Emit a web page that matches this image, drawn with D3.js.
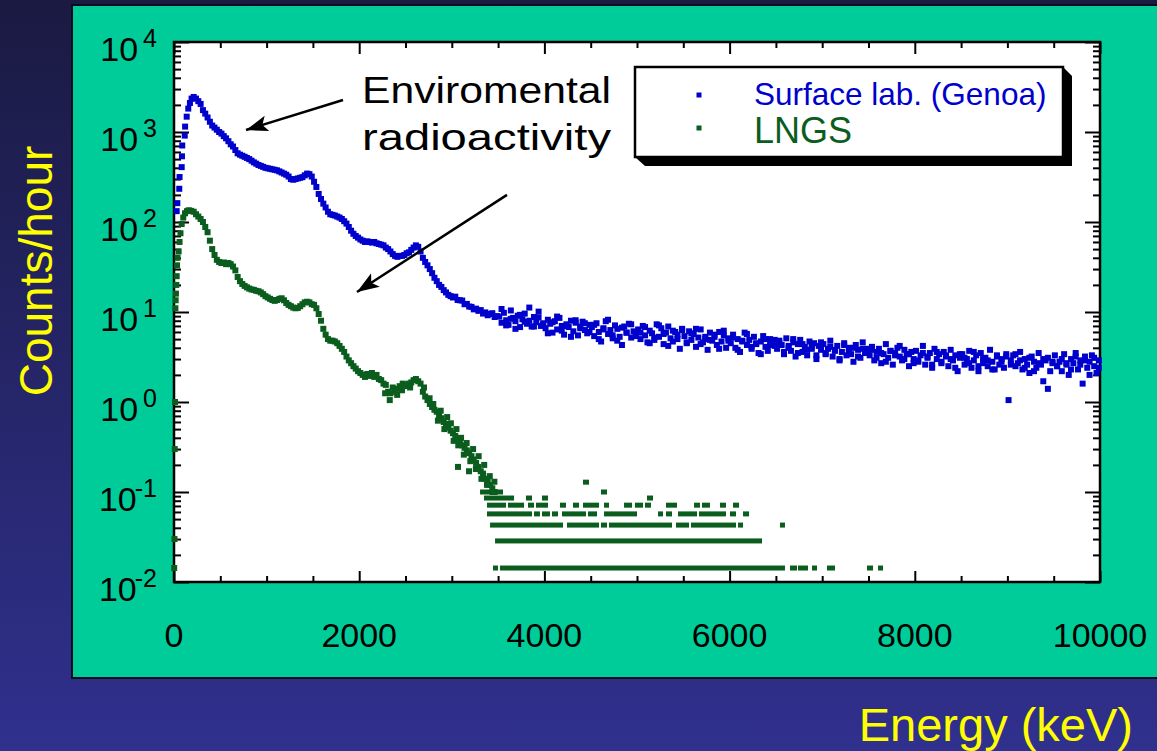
<!DOCTYPE html>
<html>
<head>
<meta charset="utf-8">
<script src="https://cdn.jsdelivr.net/npm/d3@7"></script>
<style>
html,body{margin:0;padding:0;background:#232366;}
svg{display:block;}
text{font-family:"Liberation Sans",Arial,sans-serif;}
</style>
</head>
<body>
<svg id="chart" width="1157" height="751"></svg>
<script>
// ---- data ----
var binWidth = 25;            // keV per channel group
var histStart = 200;          // first regular bin starts here (keV)

// first channels (keV, counts/hour) below histStart
var surfaceEdge = [[29,132],[36,162],[57,234],[60,316],[83,407],[86,537],[89,708],[116,912],[120,1148],[137,1480],[154,1820],[172,2100],[190,2350]];
var lngsEdge = [[2,0.0143],[5,0.03],[8,0.3],[11,1.0],[15,11],[18,13.5],[21,16],[25,20],[29,25],[33,33],[38,40],[50,47],[60,60],[70,75],[83,95],[100,112],[119,125],[140,132],[160,135],[185,133]];

// Surface lab (Genoa), counts/hour in 25 keV bins from 200 keV
var surfaceCounts = [
  2450,2350,2200,2050,1750,1600,1450,1300,1180,1120,1060,1000,960,900,850,790,730,690,630,580,
  560,545,530,515,500,480,460,445,430,420,410,400,395,390,385,380,375,365,355,345,
  335,320,300,295,300,305,310,315,330,345,340,320,280,245,205,180,160,145,130,122,
  120,118,115,112,108,102,96,88,80,74,70,67,64,62,60,61,60,59,60,58,
  57,56,55,52,50,47,44,42,41,42,42,43,45,46,49,52,55,53,47,40,
  36,33,30,27,24,22,20,19,17.5,16.5,15.5,15,14.5,14.8,13.6,13.5,13.4,12.2,12.3,11.5,
  11.4,10.7,10.9,10.3,10.5,9.6,9.9,9.2,9.5,9.7,8.8,9.0,
  8.9,7.6,9.8,8.1,7.2,10.4,8.6,7.9,9.1,6.8,8.3,9.6,7.4,8.0,6.9,8.8,7.7,10.1,7.0,7.5,
  6.6,8.2,7.4,5.9,7.9,6.4,8.6,7.0,5.6,7.3,6.8,8.0,6.1,7.6,5.5,6.9,7.8,6.3,5.8,7.2,
  6.8,5.4,7.5,6.0,4.7,6.6,7.9,5.7,6.3,5.1,7.1,6.5,5.3,4.3,6.9,5.9,7.4,5.2,6.1,5.6,
  6.4,5.0,7.0,5.5,4.6,6.2,5.8,4.9,7.3,5.3,6.6,4.4,5.9,6.9,5.1,4.7,6.0,5.6,3.9,6.3,
  5.4,4.5,6.1,4.9,5.7,4.1,5.2,6.4,4.6,5.0,3.8,5.9,4.8,5.3,4.3,6.0,4.7,5.5,4.0,5.1,
  4.5,5.6,4.0,5.0,3.6,4.8,5.9,4.3,4.9,3.9,5.3,4.4,3.5,4.7,5.4,4.1,3.7,5.0,4.6,4.2,
  3.9,4.8,4.3,3.4,5.1,4.0,3.7,4.6,3.2,4.4,4.9,3.6,4.1,3.3,4.7,3.9,4.5,3.0,4.2,3.8,
  4.4,3.5,3.9,4.8,3.2,3.7,4.2,2.9,3.6,4.5,3.3,4.0,3.4,2.8,4.3,3.8,3.1,4.6,3.5,3.9,
  3.3,4.1,2.9,3.6,3.9,2.7,3.4,4.4,3.1,3.7,2.6,3.5,4.0,3.2,2.9,3.8,3.4,2.5,3.6,3.0,
  3.7,2.8,3.3,4.2,2.6,3.1,3.5,2.4,3.9,3.0,3.4,2.7,3.6,3.2,2.5,3.8,2.9,3.3,2.2,3.1,
  3.4,2.6,3.0,3.7,2.4,2.9,3.3,2.2,3.5,2.7,3.1,2.5,3.8,2.8,2.3,3.2,2.6,3.0,2.4,3.4,
  1.05,2.9,3.3,2.5,2.7,3.6,2.3,3.0,2.6,2.1,3.2,2.8,2.4,3.5,2.6,1.7,2.9,3.1,2.2,2.7,
  3.3,2.5,2.8,2.2,3.4,2.6,2.0,3.0,2.7,3.5,2.3,2.9,1.6,3.2,2.4,2.8,3.3,2.5,2.1,2.9
];
// Surface lab, second set of tail channels (50 keV apart, from 3512 keV)
var tailStart = 3512;
var tailStep = 50;
var surfaceTailExtra = [
  10.8,7.1,8.4,6.5,9.3,7.8,11.2,6.9,8.7,7.3,
  5.8,7.7,8.9,6.2,7.0,5.3,8.1,6.6,7.5,6.0,
  7.2,5.0,6.4,8.2,5.5,4.8,6.7,5.9,7.3,5.4,
  5.9,6.8,4.5,5.2,7.1,5.7,4.2,6.2,5.0,6.5,
  4.6,5.8,6.5,4.4,5.3,4.9,5.6,3.9,6.2,4.8,
  5.2,3.8,4.7,5.7,4.1,4.5,3.4,5.0,4.3,4.9,
  4.5,3.6,4.2,5.0,3.5,4.4,3.8,4.1,3.3,4.6,
  3.4,4.1,3.8,3.0,4.3,3.6,4.0,3.2,3.9,3.5,
  3.8,3.1,3.5,2.8,3.7,3.3,4.2,3.0,3.4,2.7,
  2.9,3.5,3.2,2.6,3.6,2.8,3.3,3.0,2.4,3.4,
  3.1,2.7,3.6,2.5,3.0,2.9,2.3,3.3,2.8,3.2,
  2.6,3.4,2.9,2.4,3.1,2.2,2.7,3.0,1.4,2.8,
  2.5,3.0,2.7,2.3,3.2,2.6,2.9,2.0,3.1,2.4
];

// LNGS, counts/hour in 25 keV bins from 200 keV
var lngsCounts = [
  130,122,115,108,100,88,77,62,50,43,38,36,35,35.5,34,35,34,32,29,24.5,
  22,20.5,19.5,18.8,18.2,17.8,17.6,17.2,17.0,16.5,15.8,15.0,14.5,14.0,13.6,13.3,13.6,14.0,14.2,13.5,
  12.6,12.0,11.6,11.2,11.0,11.1,11.6,12.2,12.8,13.0,12.8,12.2,12.0,11.0,9.5,8.0,6.5,5.6,5.0,4.8,
  4.8,4.7,4.5,4.2,3.9,3.6,3.2,2.9,2.7,2.5,2.35,2.2,2.1,2.0,1.9,2.05,1.95,2.1,1.9,2.0,
  1.8,1.75,1.6,1.55,1.3,1.25,1.45,1.3,1.4,1.5,1.35,1.55,1.5,1.6,1.65,1.75,1.8,1.7,1.6,1.3,
  1.15,1.05,0.95,0.88,0.82,0.78,0.70,0.66,0.6,0.57,0.52,0.48,0.45,0.42,0.38,0.36,0.33,0.31,0.29,0.27,
  0.25,0.23,0.21,0.19,0.17,0.16,0.14,0.13,0.12,0.11,0.1
];
// extra LNGS channels scattered around the curve (keV, counts/hour)
var lngsScatter = [[2280,1.25],[2330,1.05],[2410,1.2],[2470,1.6],[2550,1.45],[2700,1.45],[2760,1.1],[2800,0.95],
  [2850,0.62],[2880,0.8],[2920,0.5],[2950,0.68],[2990,0.58],[3020,0.37],[3050,0.5],[3067,0.19],[3070,0.33],[3100,0.4],
  [3130,0.26],[3160,0.35],[3186,0.17],[3200,0.22],[3230,0.3],[3260,0.18],[3290,0.25],[3320,0.14],[3350,0.2],[3380,0.12],
  [3410,0.15],[3440,0.1],[3460,0.13]];

// LNGS high-energy channels: runs of channels sitting on the same (quantised) rate
// [counts/hour, from keV, to keV]
var lngsRuns = [
  [0.0143,3445,3499],[0.0143,3520,6598],[0.0143,6652,6728],[0.0143,6739,6847],[0.0143,6890,6944],[0.0143,7052,7138],[0.0143,7484,7549],[0.0143,7603,7657],
  [0.0286,3467,6350],
  [0.0429,3413,4201],[0.0429,4244,4590],[0.0429,4611,4676],[0.0429,4698,5378],[0.0429,5421,5562],[0.0429,5583,6069],[0.0429,6091,6145],[0.0429,6544,6598],
  [0.0571,3380,3866],[0.0571,3888,3952],[0.0571,3974,4060],[0.0571,4082,4147],[0.0571,4190,4449],[0.0571,4471,4568],[0.0571,4644,5000],[0.0571,5227,5281],
  [0.0571,5313,5378],[0.0571,5443,5648],[0.0571,5670,5961],[0.0571,6004,6069],[0.0571,6145,6210],
  [0.0714,3380,3585],[0.0714,3607,3780],[0.0714,3823,3888],[0.0714,3909,4039],[0.0714,4168,4233],[0.0714,4309,4374],[0.0714,4417,4590],[0.0714,4644,4698],
  [0.0714,4860,4946],[0.0714,4978,5065],[0.0714,5086,5151],[0.0714,5313,5432],[0.0714,5616,5680],[0.0714,5702,5788],[0.0714,5896,5961],[0.0714,6037,6102],
  [0.0857,3348,3672],[0.0857,3801,3866],[0.0857,3974,4039],[0.0857,5108,5173],
  [0.1,3305,3553],[0.1,4611,4676],
  [0.1286,4417,4482]
];

var seriesNames = ['Surface lab. (Genoa)', 'LNGS'];
var seriesColors = ['#0000cc', '#0b5d1e'];
var xTickLabels = ['0','2000','4000','6000','8000','10000'];
var yExponents = ['-2','-1','0','1','2','3','4'];

// ---- layout ----
var svg = d3.select('#chart');
var plot = {left:174, top:42, right:1100, bottom:582};
var markSize = 6;
var runHeight = 5;

var x = d3.scaleLinear().domain([0,10000]).range([plot.left, plot.right]);
var y = d3.scaleLog().domain([0.01,10000]).range([plot.bottom, plot.top]);

function binned(values, start, step){
  return values.map(function(v,i){ return [start + step*(i+0.5), v]; });
}
var surfacePts = surfaceEdge
  .concat(binned(surfaceCounts, histStart, binWidth))
  .concat(binned(surfaceTailExtra, tailStart, tailStep));
var lngsPts = lngsEdge.concat(binned(lngsCounts, histStart, binWidth)).concat(lngsScatter);

// background
var defs = svg.append('defs');
var grad = defs.append('linearGradient').attr('id','bg').attr('x1',0).attr('y1',0).attr('x2',0).attr('y2',1);
grad.append('stop').attr('offset','0%').attr('stop-color','#1a1a42');
grad.append('stop').attr('offset','100%').attr('stop-color','#30308e');
svg.append('rect').attr('width',1157).attr('height',751).attr('fill','url(#bg)');

defs.append('marker').attr('id','arrow')
  .attr('markerUnits','userSpaceOnUse')
  .attr('markerWidth',24).attr('markerHeight',18)
  .attr('refX',22).attr('refY',8)
  .attr('orient','auto')
  .append('path').attr('d','M0,0 L22,8 L0,16 L5,8 Z').attr('fill','#000');

// teal panel
svg.append('rect')
  .attr('x',72).attr('y',5).attr('width',1110).attr('height',673)
  .attr('fill','#00cc99').attr('stroke','#0a0a20').attr('stroke-width',2);

// plot area
svg.append('rect')
  .attr('x',plot.left).attr('y',plot.top)
  .attr('width',plot.right-plot.left).attr('height',plot.bottom-plot.top)
  .attr('fill','#fff');

// ticks (all inward)
var xTicks = x.ticks(20);
var yTicks = y.ticks();
function majorX(v){ return v % 2000 === 0; }
function majorY(v){ var l = Math.log10(v); return Math.abs(l - Math.round(l)) < 1e-6; }

function styleAxis(g, isMajor, majorLen, sign, horiz){
  g.select('.domain').remove();
  g.selectAll('.tick line')
    .attr('stroke','#000').attr('stroke-width',2)
    .each(function(d){
      if (isMajor(d)) d3.select(this).attr(horiz ? 'y2' : 'x2', sign*majorLen);
    });
  g.selectAll('.tick text').remove();
}

svg.append('g').attr('transform','translate(0,'+plot.bottom+')')
  .call(d3.axisTop(x).tickValues(xTicks).tickSize(6))
  .call(styleAxis, majorX, 11, -1, true);
svg.append('g').attr('transform','translate(0,'+plot.top+')')
  .call(d3.axisBottom(x).tickValues(xTicks).tickSize(6))
  .call(styleAxis, majorX, 12, 1, true);
svg.append('g').attr('transform','translate('+plot.left+',0)')
  .call(d3.axisRight(y).tickValues(yTicks).tickSize(7))
  .call(styleAxis, majorY, 15, 1, false);
svg.append('g').attr('transform','translate('+plot.right+',0)')
  .call(d3.axisLeft(y).tickValues(yTicks).tickSize(7))
  .call(styleAxis, majorY, 15, -1, false);

// frame
svg.append('rect')
  .attr('x',plot.left).attr('y',plot.top)
  .attr('width',plot.right-plot.left).attr('height',plot.bottom-plot.top)
  .attr('fill','none').attr('stroke','#000').attr('stroke-width',2.5);

// tick labels
svg.append('g').selectAll('text').data(xTickLabels).enter().append('text')
  .attr('x', function(d){ return x(+d); })
  .attr('y', plot.bottom + 65)
  .attr('text-anchor','middle')
  .attr('font-size',34)
  .attr('fill','#000')
  .text(function(d){ return d; });

var yLab = svg.append('g').selectAll('text').data(yExponents).enter().append('text')
  .attr('x', 157)
  .attr('y', function(d){ return y(Math.pow(10,+d)) + 19; })
  .attr('text-anchor','end')
  .attr('fill','#000');
yLab.append('tspan').attr('font-size',34).text('10');
yLab.append('tspan').attr('font-size',25)
  .attr('dx', function(d){ return +d < 0 ? -2 : 5; })
  .attr('dy', -14)
  .text(function(d){ return d; });

// data marks
function drawPoints(pts, color){
  svg.append('g').selectAll('rect').data(pts).enter().append('rect')
    .attr('x', function(d){ return x(d[0]) - markSize/2; })
    .attr('y', function(d){ return y(d[1]) - markSize/2; })
    .attr('width', markSize).attr('height', markSize)
    .attr('fill', color);
}
drawPoints(surfacePts, seriesColors[0]);
drawPoints(lngsPts, seriesColors[1]);

svg.append('g').selectAll('rect').data(lngsRuns).enter().append('rect')
  .attr('x', function(d){ return x(d[1]); })
  .attr('y', function(d){ return y(d[0]) - runHeight/2; })
  .attr('width', function(d){ return x(d[2]) - x(d[1]); })
  .attr('height', runHeight)
  .attr('fill', seriesColors[1]);

// annotation
var note = svg.append('g');
note.append('line')
  .attr('x1', x(1825)).attr('y1', y(2270))
  .attr('x2', x(778)).attr('y2', y(1052))
  .attr('stroke','#000').attr('stroke-width',2.5).attr('marker-end','url(#arrow)');
note.append('line')
  .attr('x1', x(3596)).attr('y1', y(200))
  .attr('x2', x(1976)).attr('y2', y(16.7))
  .attr('stroke','#000').attr('stroke-width',2.5).attr('marker-end','url(#arrow)');
note.selectAll('text').data(['Enviromental','radioactivity']).enter().append('text')
  .attr('x', x(2030))
  .attr('y', function(d,i){ return y(i ? 631 : 2100); })
  .attr('font-family','"Comic Sans MS","DejaVu Sans",sans-serif')
  .attr('font-size',36)
  .attr('textLength', 249).attr('lengthAdjust','spacingAndGlyphs')
  .attr('fill','#000')
  .text(function(d){ return d; });

// legend
var leg = svg.append('g');
leg.append('polygon')
  .attr('points','1063,67 1072,76 1072,166 645,166 635,157')
  .attr('fill','#000');
leg.append('rect')
  .attr('x',635).attr('y',67).attr('width',428).attr('height',90)
  .attr('fill','#fff').attr('stroke','#000').attr('stroke-width',2.5);
var legRows = leg.selectAll('g.row').data(seriesNames).enter().append('g').attr('class','row');
legRows.append('rect')
  .attr('x', 699 - 2.5)
  .attr('y', function(d,i){ return (i ? 128 : 95) - 2.5; })
  .attr('width', 5).attr('height', 5)
  .attr('fill', function(d,i){ return seriesColors[i]; });
legRows.append('text')
  .attr('x', 754)
  .attr('y', function(d,i){ return i ? 143 : 105; })
  .attr('font-size', function(d,i){ return i ? 36 : 31.5; })
  .attr('fill', function(d,i){ return seriesColors[i]; })
  .text(function(d){ return d; });

// axis titles
svg.append('text')
  .attr('transform','translate(52,271) rotate(-90)')
  .attr('text-anchor','middle')
  .attr('font-size',46)
  .attr('fill','#ffff00')
  .text('Counts/hour');
svg.append('text')
  .attr('x',1133).attr('y',741)
  .attr('text-anchor','end')
  .attr('font-size',47)
  .attr('fill','#ffff00')
  .text('Energy (keV)');
</script>
</body>
</html>
